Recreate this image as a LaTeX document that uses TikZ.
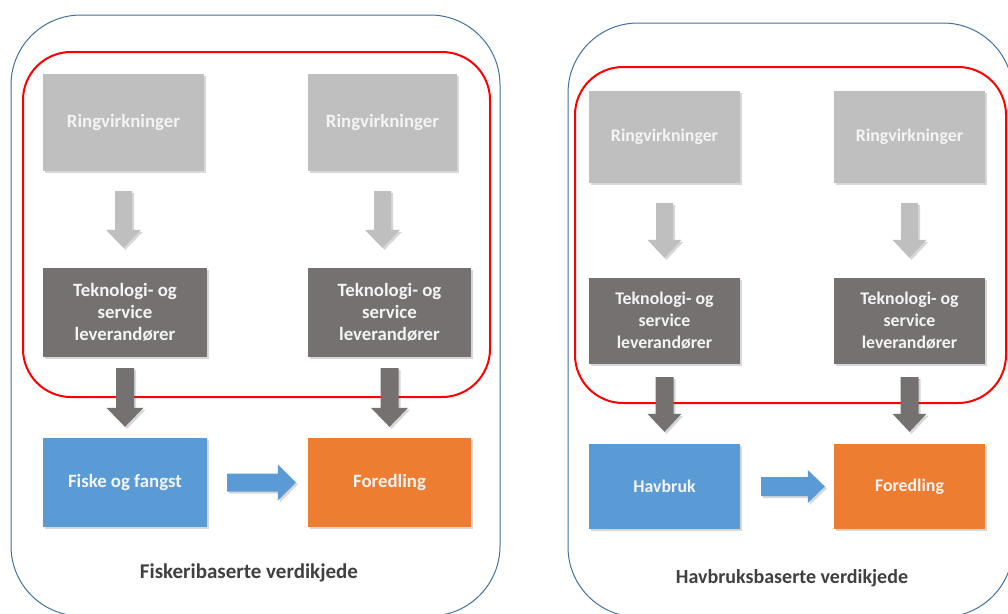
\documentclass[tikz,border=0pt]{standalone}
\usepackage{fontspec}
\setmainfont{Carlito}
\usetikzlibrary{calc,shadows}
\definecolor{lgbox}{HTML}{BFBFBF}
\definecolor{dkbox}{HTML}{767171}
\definecolor{bluebox}{HTML}{5B9BD5}
\definecolor{orangebox}{HTML}{ED7D31}
\definecolor{redline}{HTML}{FF0000}
\definecolor{outline}{HTML}{41719C}
\definecolor{boxtext}{HTML}{F4F4F4}
\definecolor{labeltext}{HTML}{404040}
\tikzset{
  shade/.style={drop shadow={shadow xshift=2pt,shadow yshift=-2pt,opacity=0.22,fill=black!70}},
  boxbase/.style={inner sep=0pt,align=center,text=boxtext,shade,
    font=\bfseries\fontsize{18.8}{22}\selectfont},
  boxbaseR/.style={boxbase,font=\bfseries\fontsize{17.8}{22}\selectfont},
  ringbox/.style={fill=lgbox},
  tekbox/.style={fill=dkbox},
  fiskbox/.style={fill=bluebox},
  fordbox/.style={fill=orangebox},
  grayarrow/.style={fill=lgbox,shade},
  darkarrow/.style={fill=dkbox,shade},
  bluearrow/.style={fill=bluebox,shade},
  redframe/.style={draw=redline,line width=2pt,rounded corners=48pt},
  outerframe/.style={draw=outline,line width=1pt,rounded corners=70pt},
  chainlabel/.style={text=labeltext,font=\bfseries\fontsize{21}{25}\selectfont,inner sep=0pt},
  chainlabelR/.style={chainlabel,font=\bfseries\fontsize{20}{24}\selectfont}
}
% vertical block arrow: style, from, to, gap1, gap2, half shaft, half head, head length
\newcommand{\vblockarrow}[8]{%
  \path[#1] let \p1=(#2.south), \p2=(#3.north) in
    (\x1-#6,\y1-#4) -- (\x1+#6,\y1-#4) -- (\x1+#6,\y2+#5+#8) -- (\x1+#7,\y2+#5+#8)
    -- (\x1,\y2+#5) -- (\x1-#7,\y2+#5+#8) -- (\x1-#6,\y2+#5+#8) -- cycle;}
% horizontal block arrow
\newcommand{\hblockarrow}[8]{%
  \path[#1] let \p1=(#2.east), \p2=(#3.west) in
    (\x1+#4,\y1+#6) -- (\x2-#5-#8,\y1+#6) -- (\x2-#5-#8,\y1+#7) -- (\x2-#5,\y1)
    -- (\x2-#5-#8,\y1-#7) -- (\x2-#5-#8,\y1-#6) -- (\x1+#4,\y1-#6) -- cycle;}
\begin{document}
\begin{tikzpicture}[x=1pt,y=-1pt]
\useasboundingbox (0,0) rectangle (1008,613);
\clip (0,0) rectangle (1008,613);
\fill[white] (0,0) rectangle (1008,613);

% outer frames
\draw[outerframe] (11,15) rectangle (500,616);
\draw[outerframe] (568,23) rectangle (1013,617);
% red frames
\draw[redframe] (23,52) rectangle (490,397);
\draw[redframe] (575,67) rectangle (1006,403);

% left panel
\node[boxbase,ringbox,minimum width=161pt,minimum height=97pt] (r1) at (123.5,122.5) {Ringvirkninger};
\node[boxbase,ringbox,minimum width=149pt,minimum height=97pt] (r2) at (382.5,122.5) {Ringvirkninger};
\node[boxbase,tekbox,minimum width=164pt,minimum height=89pt] (t1) at (125,312.5) {Teknologi- og\\service\\leverandører};
\node[boxbase,tekbox,minimum width=163pt,minimum height=89pt] (t2) at (389.5,312.5) {Teknologi- og\\service\\leverandører};
\node[boxbase,fiskbox,minimum width=164pt,minimum height=89pt] (f1) at (125,482.5) {Fiske og fangst};
\node[boxbase,fordbox,minimum width=163pt,minimum height=89pt] (f2) at (389.5,482.5) {Foredling};

\vblockarrow{grayarrow}{r1}{t1}{20pt}{20pt}{8.5pt}{17.5pt}{18pt}
\vblockarrow{grayarrow}{r2}{t2}{20pt}{20pt}{8.5pt}{17.5pt}{18pt}
\vblockarrow{darkarrow}{t1}{f1}{11pt}{11pt}{9pt}{18.5pt}{19pt}
\vblockarrow{darkarrow}{t2}{f2}{11pt}{11pt}{9pt}{18.5pt}{19pt}
\hblockarrow{bluearrow}{f1}{f2}{20pt}{12pt}{9pt}{18pt}{18pt}

\node[chainlabel] (l1) at (249,573) {Fiskeribaserte verdikjede};

% right panel
\node[boxbaseR,ringbox,minimum width=151pt,minimum height=92pt] (r3) at (664.5,137) {Ringvirkninger};
\node[boxbaseR,ringbox,minimum width=151pt,minimum height=92pt] (r4) at (909.5,137) {Ringvirkninger};
\node[boxbaseR,tekbox,minimum width=151pt,minimum height=86pt] (t3) at (664.5,321) {Teknologi- og\\service\\leverandører};
\node[boxbaseR,tekbox,minimum width=151pt,minimum height=86pt] (t4) at (909.5,321) {Teknologi- og\\service\\leverandører};
\node[boxbaseR,fiskbox,minimum width=151pt,minimum height=85pt] (h1) at (664.5,486.5) {Havbruk};
\node[boxbaseR,fordbox,minimum width=151pt,minimum height=85pt] (f3) at (909.5,486.5) {Foredling};

\vblockarrow{grayarrow}{r3}{t3}{20pt}{20pt}{8.5pt}{17pt}{18pt}
\vblockarrow{grayarrow}{r4}{t4}{20pt}{20pt}{8.5pt}{17pt}{18pt}
\vblockarrow{darkarrow}{t3}{h1}{13pt}{12pt}{9pt}{17pt}{18pt}
\vblockarrow{darkarrow}{t4}{f3}{13pt}{12pt}{9pt}{17pt}{18pt}
\hblockarrow{bluearrow}{h1}{f3}{21pt}{9pt}{9.5pt}{16.5pt}{17pt}

\node[chainlabelR] (l2) at (792,578) {Havbruksbaserte verdikjede};
\end{tikzpicture}
\end{document}
